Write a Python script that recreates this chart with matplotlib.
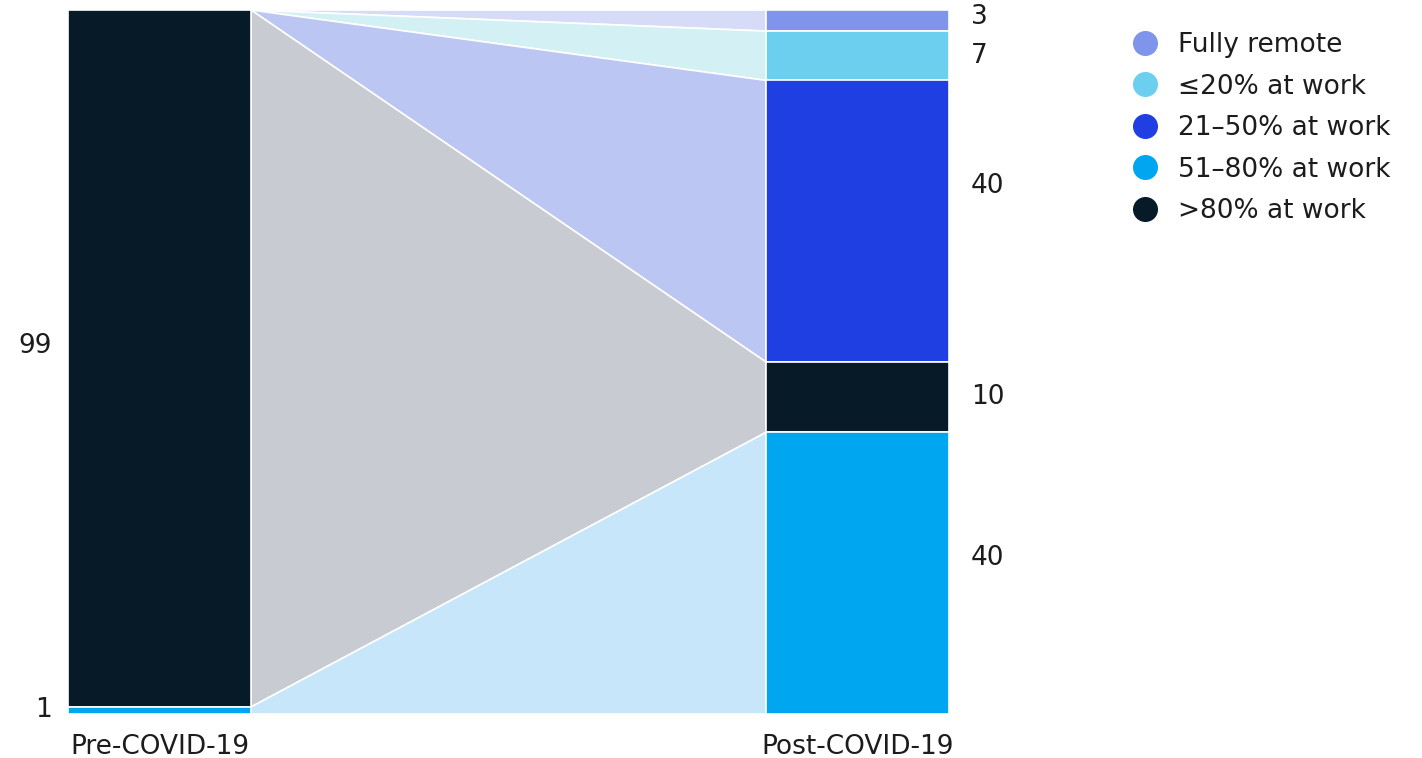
import matplotlib.pyplot as plt
from matplotlib.patches import Polygon, Rectangle
from matplotlib.lines import Line2D

plt.rcParams['font.family'] = ['DejaVu Sans']

# Share of employees by time spent at the workplace, %
periods = ['Pre-COVID-19', 'Post-COVID-19']
categories = ['Fully remote', '≤20% at work', '21–50% at work', '51–80% at work', '>80% at work']
colors = ['#7f95eb', '#6dcff0', '#1f3fe3', '#00a6f0', '#071a28']
flow_colors = ['#d6dbf7', '#d3f0f5', '#bcc6f3', '#c8e6fa', '#c8ccd2']

# stacks from top to bottom
pre_order = ['>80% at work', '51–80% at work']
pre_values = [99, 1]
post_order = ['Fully remote', '≤20% at work', '21–50% at work', '>80% at work', '51–80% at work']
post_values = [3, 7, 40, 10, 40]

# flows: (source category, target category), source share collapses to a point when absent pre-COVID
flows = [('>80% at work', 'Fully remote', 0),
         ('>80% at work', '≤20% at work', 0),
         ('>80% at work', '21–50% at work', 0),
         ('>80% at work', '>80% at work', 99),
         ('51–80% at work', '51–80% at work', 1)]


def stack_bounds(order, values):
    bounds = {}
    top = 100
    for name, v in zip(order, values):
        bounds[name] = (top - v, top)
        top -= v
    return bounds


pre_b = stack_bounds(pre_order, pre_values)
post_b = stack_bounds(post_order, post_values)

fig = plt.figure(figsize=(14.22, 7.58), dpi=100)
ax = fig.add_axes([68 / 1422, 44 / 758, 881 / 1422, 704 / 758])
ax.set_xlim(0, 1)
ax.set_ylim(0, 100)
ax.axis('off')

bw = 183 / 881
x_pre, x_post = 0, 1 - bw

# flows between the bars
for src, dst, share in flows:
    s_lo, s_hi = pre_b[src]
    if share == 0:
        s_lo = s_hi
    d_lo, d_hi = post_b[dst]
    poly = Polygon([(x_pre + bw, s_hi), (x_post, d_hi), (x_post, d_lo), (x_pre + bw, s_lo)],
                   closed=True, facecolor=flow_colors[categories.index(dst)],
                   edgecolor='white', linewidth=1.2, zorder=1)
    ax.add_patch(poly)

# bars
for x0, order, bounds in [(x_pre, pre_order, pre_b), (x_post, post_order, post_b)]:
    for name in order:
        lo, hi = bounds[name]
        ax.add_patch(Rectangle((x0, lo), bw, hi - lo, facecolor=colors[categories.index(name)],
                               edgecolor='white', linewidth=1.2, zorder=2))

txt = '#1c1c1c'
fs = 19

# value labels
pre_label_shift = [1.8, 0]
for name, v, dy in zip(pre_order, pre_values, pre_label_shift):
    lo, hi = pre_b[name]
    ax.text(-0.018, (lo + hi) / 2 + dy, str(v), ha='right', va='center', fontsize=fs, color=txt)

post_label_shift = [0.5, 0, 5, 0, 2.1]
for name, v, dy in zip(post_order, post_values, post_label_shift):
    lo, hi = post_b[name]
    ax.text(1.025, (lo + hi) / 2 + dy, str(v), ha='left', va='center', fontsize=fs, color=txt)

ax.text(x_pre + bw / 2, -2.8, periods[0], ha='center', va='top', fontsize=fs, color=txt)
ax.text(x_post + bw / 2, -2.8, periods[1], ha='center', va='top', fontsize=fs, color=txt)

handles = [Line2D([], [], linestyle='none', marker='o', markersize=17,
                  markerfacecolor=c, markeredgecolor=c) for c in colors]
fig.legend(handles, categories, loc='upper left', bbox_to_anchor=(1133 / 1422, 1 - 32 / 758),
           frameon=False, fontsize=fs, handlelength=0.9, handletextpad=0.8,
           labelspacing=0.59, borderpad=0, borderaxespad=0, labelcolor=txt)

fig.savefig('out.png', dpi=100)
